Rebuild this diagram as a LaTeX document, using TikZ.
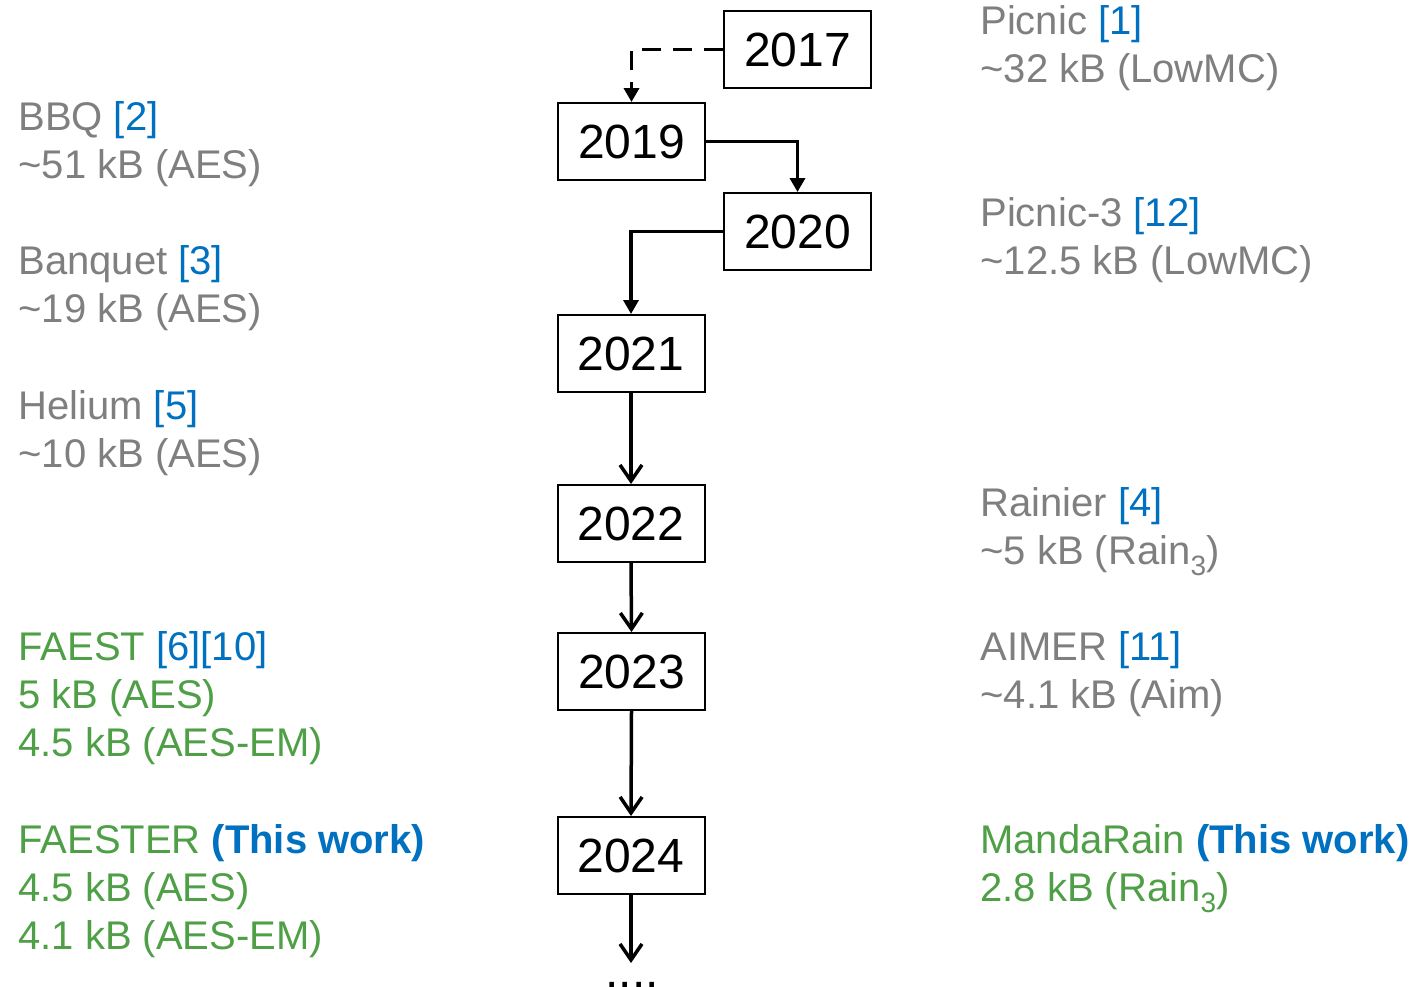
\documentclass[tikz,border=0pt]{standalone}
\usepackage{fontspec}
\setmainfont{Liberation Sans}
\usetikzlibrary{arrows.meta}
\definecolor{txtgray}{HTML}{7F7F7F}
\definecolor{refblue}{HTML}{0070C0}
\definecolor{okgreen}{HTML}{4E9F46}
\newcommand{\rf}[1]{\textcolor{refblue}{#1}}
\newcommand{\lowsub}[1]{\raisebox{-0.28em}{\fontsize{14}{14}\selectfont #1}}
\begin{document}
\begin{tikzpicture}[x=0.5pt,y=-0.5pt,
  yearbox/.style={draw,line width=1pt,minimum width=73.5pt,minimum height=38.5pt,inner sep=0pt,font=\fontsize{24}{28}\selectfont},
  info/.style={anchor=base west,align=left,inner sep=0pt,font=\fontsize{20}{24}\selectfont},
  grayinfo/.style={info,text=txtgray},
  greeninfo/.style={info,text=okgreen},
  link/.style={line width=1.75pt},
  tri/.style={link,-{Triangle[length=7pt,width=7.5pt]}},
  barb/.style={link,-{Straight Barb[length=8pt,width=11pt,line width=1.75pt]}}
]
\useasboundingbox (0,0) rectangle (1412,986);

\node[yearbox] (y2017) at (797.5,49.5) {2017};
\node[yearbox] (y2019) at (631.5,141.5) {2019};
\node[yearbox] (y2020) at (797.5,231.5) {2020};
\node[yearbox] (y2021) at (631,353.5) {2021};
\node[yearbox] (y2022) at (631,523.5) {2022};
\node[yearbox] (y2023) at (631.5,671.5) {2023};
\node[yearbox] (y2024) at (631,855.5) {2024};
\node[anchor=base,inner sep=0pt,font=\fontsize{24}{28}\selectfont] (dots) at (632,987) {....};
\coordinate (dend) at (631,963);

\draw[tri,dash pattern=on 9.5pt off 6pt] (y2017.west) -| (y2019.north);
\draw[tri] (y2019.east) -| (y2020.north);
\draw[tri] (y2020.west) -| (y2021.north);
\draw[barb] (y2021.south) -- (y2022.north);
\draw[barb] (y2022.south) -- (y2023.north);
\draw[barb] (y2023.south) -- (y2024.north);
\draw[barb] (y2024.south) -- (dend);

% left column (position = baseline of last line)
\node[grayinfo] (bbq) at (18,178) {BBQ \rf{[2]}\\\textasciitilde51 kB (AES)};
\node[grayinfo] (banquet) at (18,322) {Banquet \rf{[3]}\\\textasciitilde19 kB (AES)};
\node[grayinfo] (helium) at (18,467) {Helium \rf{[5]}\\\textasciitilde10 kB (AES)};
\node[greeninfo] (faest) at (18,756) {FAEST \rf{[6][10]}\\5 kB (AES)\\4.5 kB (AES-EM)};
\node[greeninfo] (faester) at (18,949) {FAESTER \rf{\bfseries (This work)}\\4.5 kB (AES)\\4.1 kB (AES-EM)};

% right column
\node[grayinfo] (picnic) at (980,82) {Picnic \rf{[1]}\\\textasciitilde32 kB (LowMC)};
\node[grayinfo] (picnic3) at (980,274) {Picnic-3 \rf{[12]}\\\textasciitilde12.5 kB (LowMC)};
\node[grayinfo] (rainier) at (980,564) {Rainier \rf{[4]}\\\textasciitilde5 kB (Rain\lowsub{3})};
\node[grayinfo] (aimer) at (980,708) {AIMER \rf{[11]}\\\textasciitilde4.1 kB (Aim)};
\node[greeninfo] (mandarain) at (980,901) {MandaRain \rf{\bfseries (This work)}\\2.8 kB (Rain\lowsub{3})};
\end{tikzpicture}
\end{document}
